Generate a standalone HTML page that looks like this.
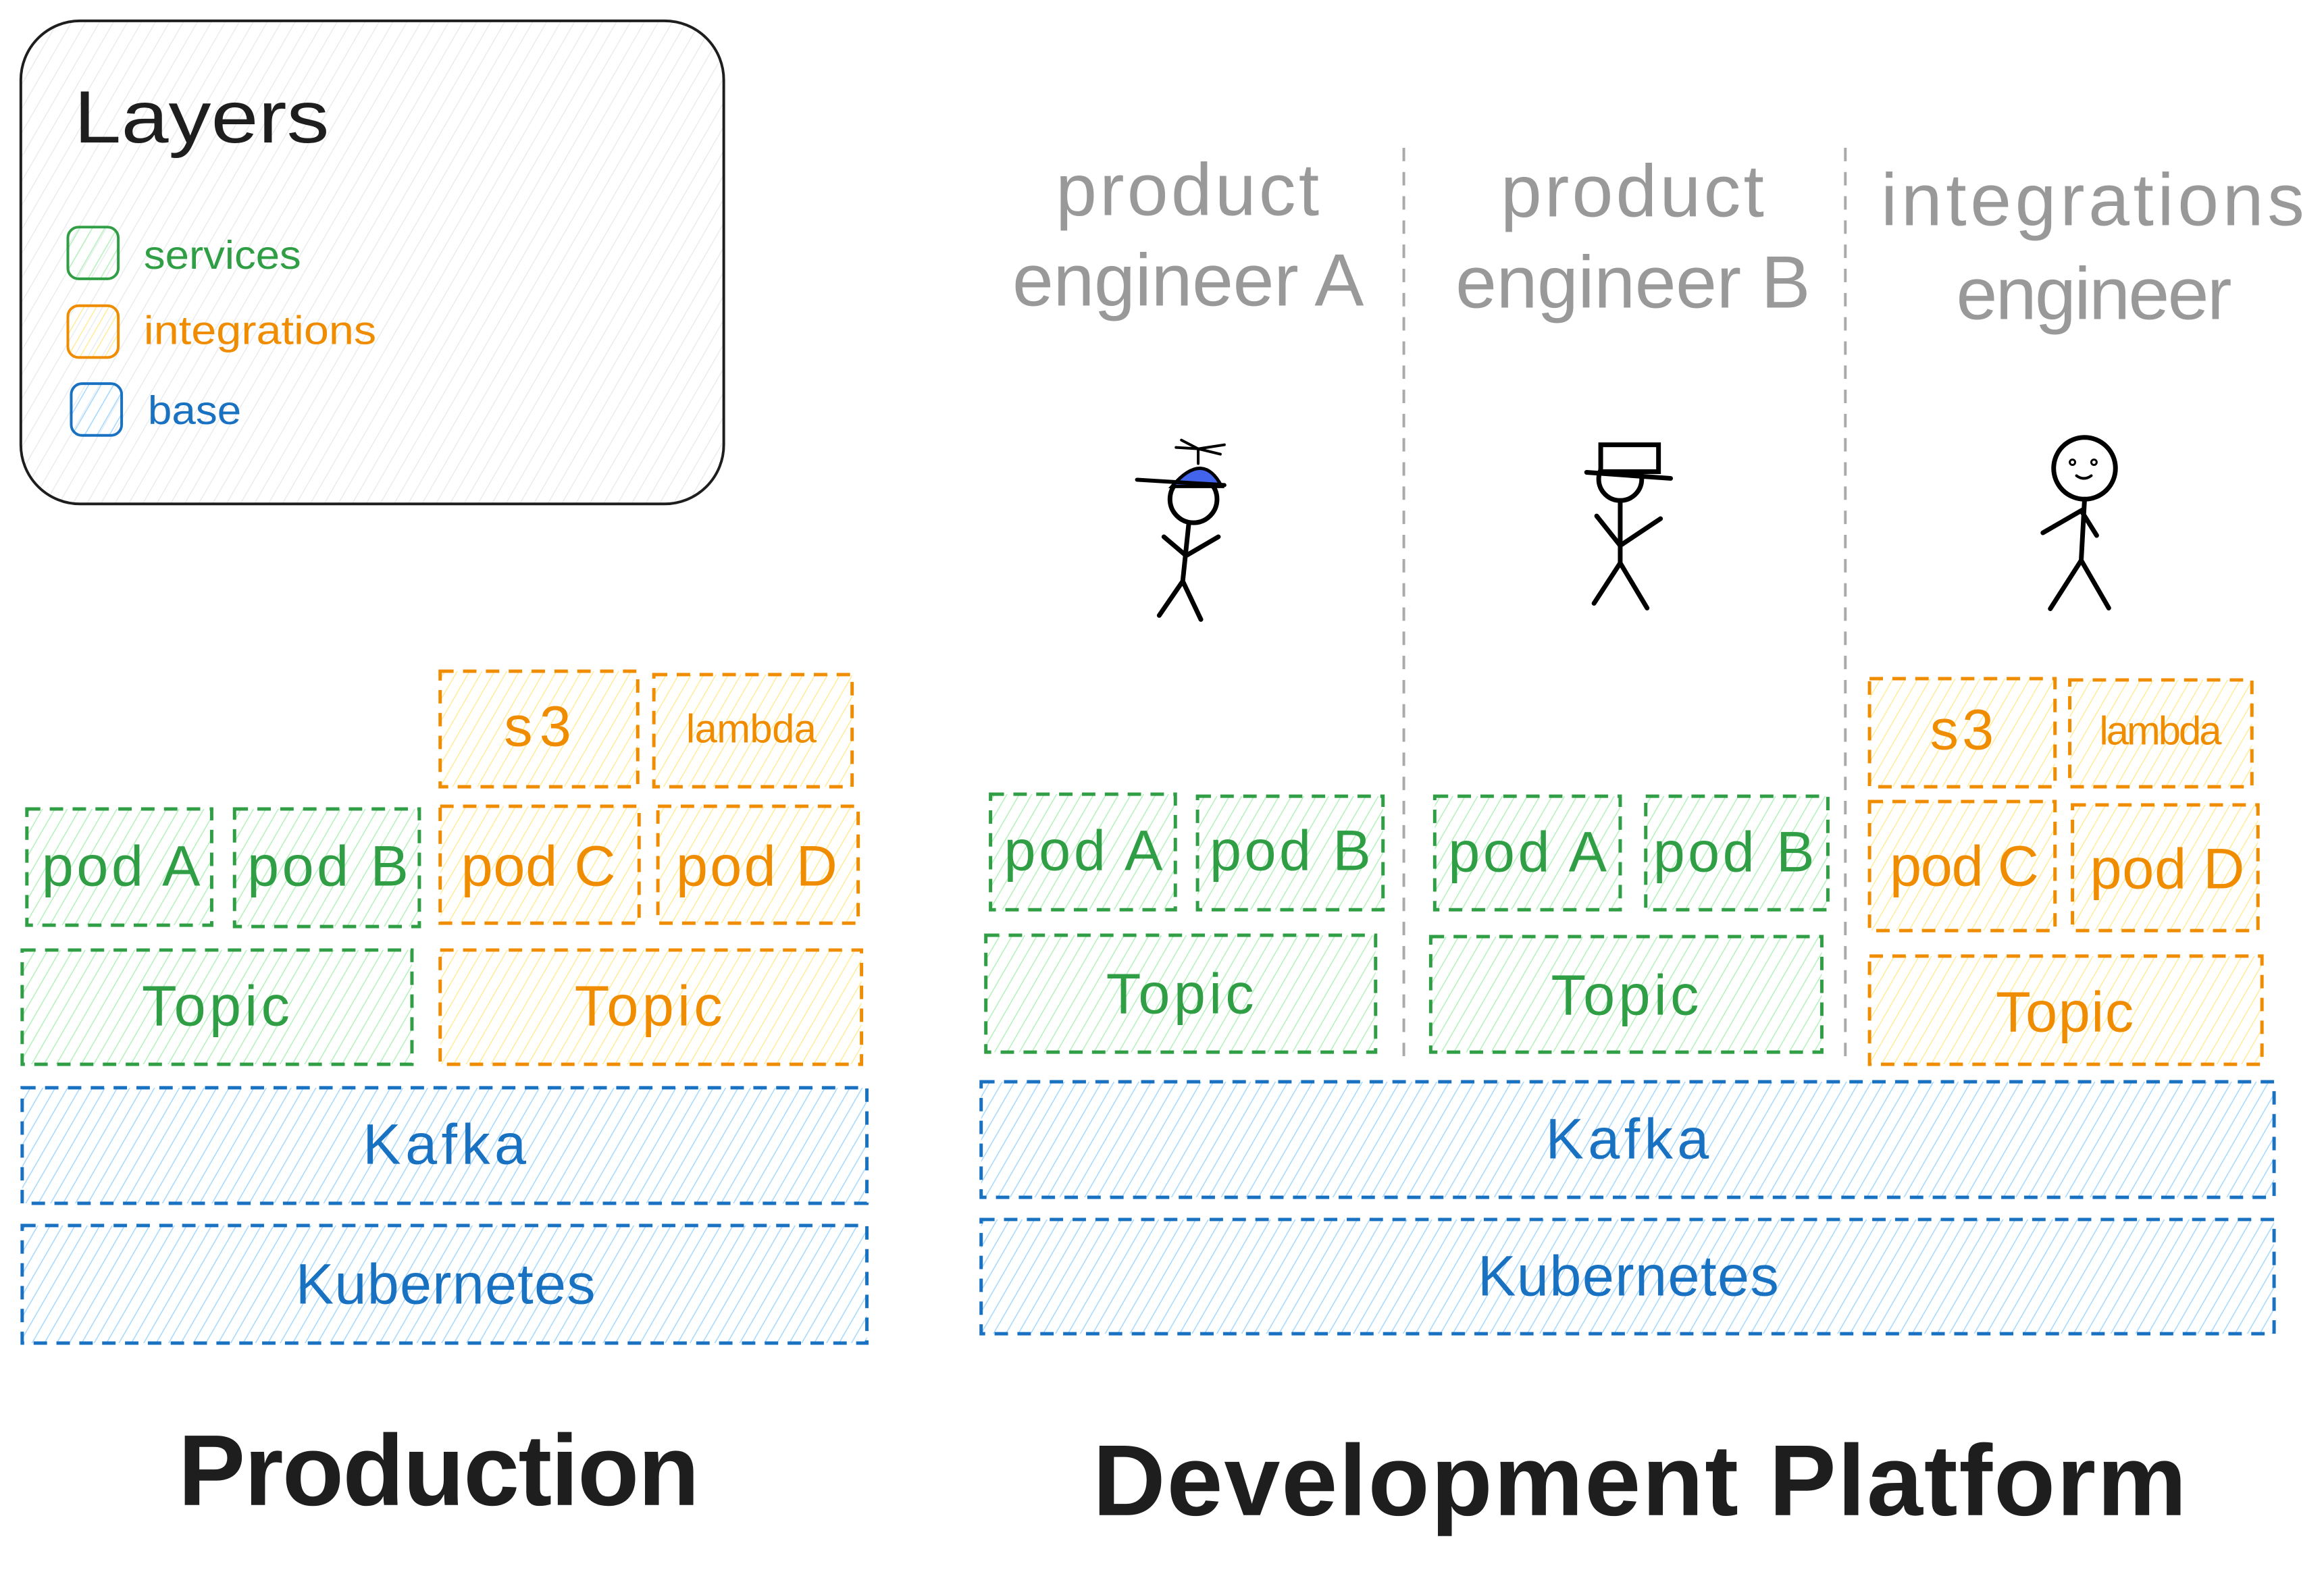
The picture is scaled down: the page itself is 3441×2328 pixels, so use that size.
<!DOCTYPE html>
<html><head><meta charset="utf-8"><style>html,body{margin:0;padding:0;background:#fff}svg{display:block}</style></head>
<body>
<svg width="3441" height="2328" viewBox="0 0 3441 2328" xmlns="http://www.w3.org/2000/svg" font-family="Liberation Sans, sans-serif">
<defs>
<pattern id="hg" width="16" height="16" patternUnits="userSpaceOnUse" patternTransform="rotate(30)"><line x1="0" y1="0" x2="0" y2="16" stroke="#b2f2bb" stroke-width="3"/></pattern>
<pattern id="ho" width="16" height="16" patternUnits="userSpaceOnUse" patternTransform="rotate(30)"><line x1="0" y1="0" x2="0" y2="16" stroke="#ffec99" stroke-width="3"/></pattern>
<pattern id="hb" width="16" height="16" patternUnits="userSpaceOnUse" patternTransform="rotate(30)"><line x1="0" y1="0" x2="0" y2="16" stroke="#a5d8ff" stroke-width="3"/></pattern>
<pattern id="hx" width="18" height="18" patternUnits="userSpaceOnUse" patternTransform="rotate(30)"><line x1="0" y1="0" x2="0" y2="18" stroke="#e9ecef" stroke-width="3"/></pattern>
</defs>
<g transform="scale(0.995)">
<!-- legend -->
<rect x="31" y="31" width="1046" height="719" rx="88" fill="url(#hx)" stroke="#1e1e1e" stroke-width="4"/>
<text x="110" y="212" font-size="110" fill="#1e1e1e" textLength="380" lengthAdjust="spacingAndGlyphs">Layers</text>
<rect x="101" y="338" width="75" height="77" rx="16" fill="url(#hg)" stroke="#2f9e44" stroke-width="4"/>
<text x="214" y="400" font-size="60" fill="#2f9e44" textLength="234" lengthAdjust="spacingAndGlyphs">services</text>
<rect x="101" y="455" width="75" height="77" rx="16" fill="url(#ho)" stroke="#f08c00" stroke-width="4"/>
<text x="214" y="512" font-size="60" fill="#f08c00" textLength="346" lengthAdjust="spacingAndGlyphs">integrations</text>
<rect x="106" y="571" width="75" height="77" rx="16" fill="url(#hb)" stroke="#1971c2" stroke-width="4"/>
<text x="220" y="631" font-size="60" fill="#1971c2" textLength="139" lengthAdjust="spacingAndGlyphs">base</text>

<g stroke-width="5" stroke-dasharray="20 14">
<rect x="655" y="999" width="294" height="172" fill="url(#ho)" stroke="#f08c00"/>
<rect x="973" y="1004" width="295" height="167" fill="url(#ho)" stroke="#f08c00"/>
<rect x="40" y="1204" width="275" height="173" fill="url(#hg)" stroke="#2f9e44"/>
<rect x="349" y="1204" width="275" height="175" fill="url(#hg)" stroke="#2f9e44"/>
<rect x="655" y="1200" width="296" height="174" fill="url(#ho)" stroke="#f08c00"/>
<rect x="979" y="1200" width="298" height="174" fill="url(#ho)" stroke="#f08c00"/>
<rect x="33" y="1414" width="580" height="170" fill="url(#hg)" stroke="#2f9e44"/>
<rect x="655" y="1414" width="627" height="170" fill="url(#ho)" stroke="#f08c00"/>
<rect x="33" y="1619" width="1257" height="172" fill="url(#hb)" stroke="#1971c2"/>
<rect x="33" y="1824" width="1257" height="175" fill="url(#hb)" stroke="#1971c2"/>
<rect x="1474" y="1182" width="275" height="172" fill="url(#hg)" stroke="#2f9e44"/>
<rect x="1782" y="1185" width="276" height="169" fill="url(#hg)" stroke="#2f9e44"/>
<rect x="1467" y="1392" width="580" height="174" fill="url(#hg)" stroke="#2f9e44"/>
<rect x="2135" y="1185" width="276" height="169" fill="url(#hg)" stroke="#2f9e44"/>
<rect x="2449" y="1185" width="271" height="169" fill="url(#hg)" stroke="#2f9e44"/>
<rect x="2129" y="1394" width="582" height="172" fill="url(#hg)" stroke="#2f9e44"/>
<rect x="2782" y="1010" width="276" height="161" fill="url(#ho)" stroke="#f08c00"/>
<rect x="3080" y="1012" width="271" height="159" fill="url(#ho)" stroke="#f08c00"/>
<rect x="2782" y="1193" width="276" height="192" fill="url(#ho)" stroke="#f08c00"/>
<rect x="3084" y="1198" width="276" height="187" fill="url(#ho)" stroke="#f08c00"/>
<rect x="2782" y="1423" width="584" height="161" fill="url(#ho)" stroke="#f08c00"/>
<rect x="1460" y="1610" width="1924" height="172" fill="url(#hb)" stroke="#1971c2"/>
<rect x="1460" y="1815" width="1924" height="170" fill="url(#hb)" stroke="#1971c2"/>
</g>
<g stroke="#aaa" stroke-width="4" stroke-dasharray="20 16">
<line x1="2089" y1="220" x2="2089" y2="1584"/>
<line x1="2746" y1="220" x2="2746" y2="1584"/>
</g>

<g font-size="85" lengthAdjust="spacingAndGlyphs">
<text x="62" y="1318" fill="#2f9e44" textLength="236">pod A</text>
<text x="368" y="1318" fill="#2f9e44" textLength="240">pod B</text>
<text x="686" y="1318" fill="#f08c00" textLength="230">pod C</text>
<text x="1006" y="1318" fill="#f08c00" textLength="240">pod D</text>
<text x="211" y="1526" fill="#2f9e44" textLength="220">Topic</text>
<text x="855" y="1526" fill="#f08c00" textLength="220">Topic</text>
<text x="540" y="1732" fill="#1971c2" textLength="243">Kafka</text>
<text x="440" y="1940" fill="#1971c2" textLength="446">Kubernetes</text>
<text x="750" y="1110" fill="#f08c00" textLength="100">s3</text>
<text x="1021" y="1105" fill="#f08c00" font-size="60" textLength="194">lambda</text>
<text x="1494" y="1295" fill="#2f9e44" textLength="236">pod A</text>
<text x="1800" y="1295" fill="#2f9e44" textLength="240">pod B</text>
<text x="2155" y="1297" fill="#2f9e44" textLength="236">pod A</text>
<text x="2460" y="1297" fill="#2f9e44" textLength="240">pod B</text>
<text x="1646" y="1508" fill="#2f9e44" textLength="220">Topic</text>
<text x="2308" y="1510" fill="#2f9e44" textLength="220">Topic</text>
<text x="2812" y="1318" fill="#f08c00" textLength="222">pod C</text>
<text x="3110" y="1322" fill="#f08c00" textLength="230">pod D</text>
<text x="2970" y="1535" fill="#f08c00" textLength="205">Topic</text>
<text x="2872" y="1115" fill="#f08c00" textLength="95">s3</text>
<text x="3124" y="1108" fill="#f08c00" font-size="60" textLength="182">lambda</text>
<text x="2300" y="1724" fill="#1971c2" textLength="243">Kafka</text>
<text x="2199" y="1928" fill="#1971c2" textLength="448">Kubernetes</text>
</g>

<g font-size="110" fill="#999" lengthAdjust="spacingAndGlyphs" text-anchor="middle">
<text x="1767" y="320" textLength="392">product</text>
<text x="1768" y="455" textLength="523">engineer A</text>
<text x="2429" y="322" textLength="392">product</text>
<text x="2430" y="458" textLength="528">engineer B</text>
<text x="3114" y="335" textLength="630">integrations</text>
<text x="3116" y="475" textLength="410">engineer</text>
</g>

<g font-size="150" fill="#1e1e1e" font-weight="bold" lengthAdjust="spacingAndGlyphs">
<text x="265" y="2240" textLength="776">Production</text>
<text x="1626" y="2255" textLength="1628">Development Platform</text>
</g>

<g stroke="#000" stroke-width="7" fill="none" stroke-linecap="round">
<circle cx="1776" cy="743" r="35" fill="#fff"/>
<path d="M1744 724 Q1790 670 1818 724 Z" fill="#4263eb" stroke-width="5"/>
<line x1="1692" y1="714" x2="1822" y2="722" stroke-width="6"/>
<line x1="1783" y1="690" x2="1783" y2="668" stroke-width="4"/>
<path d="M1758 655 L1783 668 L1822 662 M1750 666 L1783 668 L1816 676" stroke-width="4"/>
<path d="M1769 779 L1760 865 M1732 799 L1765 827 L1813 799 M1760 865 L1725 916 M1760 865 L1787 922"/>
<circle cx="2411" cy="713" r="32" fill="#fff"/>
<rect x="2382" y="662" width="86" height="40" fill="#fff"/>
<line x1="2361" y1="703" x2="2486" y2="712"/>
<path d="M2411 745 L2411 838 M2376 768 L2411 812 L2471 772 M2411 838 L2372 898 M2411 838 L2451 905"/>
<circle cx="3102" cy="697" r="46" fill="#fff"/>
<path d="M3102 743 L3097 834 M3040 793 L3097 760 L3120 797 M3097 834 L3051 906 M3097 834 L3138 905"/>
<circle cx="3084" cy="688" r="4" stroke-width="3"/>
<circle cx="3116" cy="688" r="4" stroke-width="3"/>
<path d="M3090 708 Q3101 716 3112 708" stroke-width="4"/>
</g>
</g>
</svg>
</body></html>
